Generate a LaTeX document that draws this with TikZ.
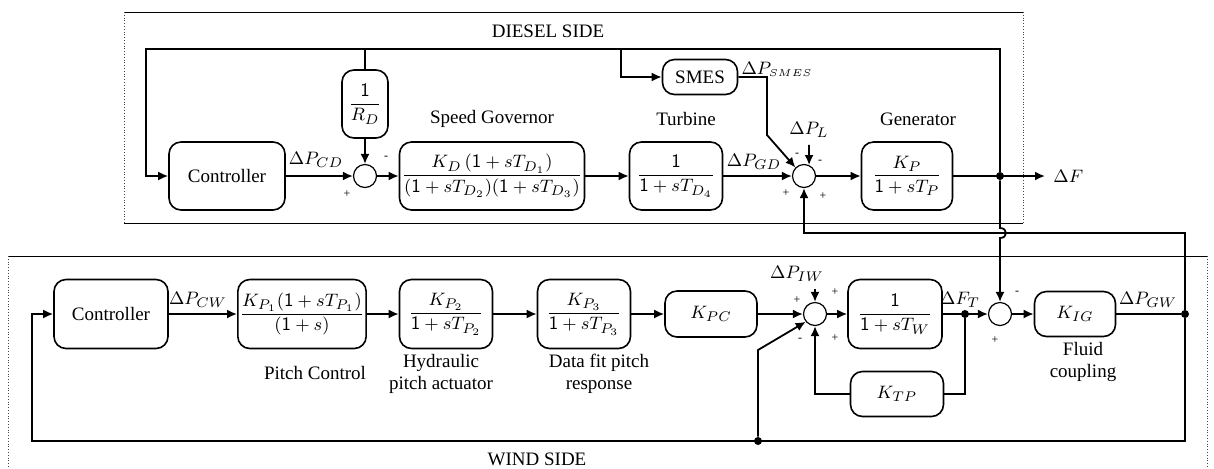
\documentclass[tikz,border=0pt]{standalone}
\usepackage{amsmath}
\usepackage{fontspec}
\setmainfont{Liberation Serif}
\usetikzlibrary{arrows.meta}
\definecolor{frmgray}{HTML}{444444}

\begin{document}
\begin{tikzpicture}[x=0.5pt, y=-0.5pt,
    font=\fontsize{9.5}{11}\selectfont,
    blk/.style={draw, line width=0.8pt, rounded corners=6pt, inner sep=1pt, align=center},
    sumj/.style={draw, circle, line width=0.6pt, minimum size=11.5pt, inner sep=0pt},
    jdot/.style={circle, fill, inner sep=0pt, minimum size=4pt},
    sgn/.style={font=\fontsize{6}{7}\selectfont, inner sep=0pt},
    arr/.style={line width=0.9pt, -{Latex[length=5pt, width=4.5pt]}},
    ln/.style={line width=0.9pt},
    frm/.style={line width=0.4pt},
    side/.style={frm, draw=frmgray, densely dotted}]

  \useasboundingbox (0,0) rectangle (1214,468);

  % frames
  \draw[frm] (124,12) -- (1023,12) (124,223) -- (1023,223);
  \draw[side] (124,12) -- (124,223) (1023,12) -- (1023,223);
  \draw[frm] (8,256) -- (1207,256);
  \draw[side] (8,256) -- (8,468) (1207,256) -- (1207,468);
  \node (tD) at (548,31) {DIESEL SIDE};
  \node (tW) at (537,459) {WIND SIDE};

  % diesel side
  \node[blk, minimum width=58pt, minimum height=34pt] (ctrlD) at (227,176) {Controller};
  \node[blk, minimum width=23pt, minimum height=34pt] (rd) at (365,104) {$\dfrac{\mathsf{1}}{R_D}$};
  \node[sumj] (s1) at (365,176) {};
  \node[blk, minimum width=92.5pt, minimum height=34pt] (gov) at (492,176)
    {$\dfrac{K_D\,(\mathsf{1}+sT_{D_1})}{(\mathsf{1}+sT_{D_2})(\mathsf{1}+sT_{D_3})}$};
  \node[blk, minimum width=46.5pt, minimum height=34pt] (turb) at (676,176)
    {$\dfrac{\mathsf{1}}{\mathsf{1}+sT_{D_4}}$};
  \node[blk, minimum width=37.5pt, minimum height=17.5pt] (smes) at (700,77) {SMES};
  \node[sumj] (s2) at (804,176) {};
  \node[blk, minimum width=45.5pt, minimum height=34pt] (gen) at (907,176)
    {$\dfrac{K_P}{\mathsf{1}+sT_P}$};
  \node[jdot] (dF1) at (1000,176) {};
  \node[anchor=west, inner sep=4pt] (dF) at (1045,176) {$\Delta F$};

  \node (lgov) at (492,119) {Speed Governor};
  \node (lturb) at (686,119) {Turbine};
  \node (lgen) at (918,119) {Generator};
  \node (pcd) at (316,160) {$\Delta P_{CD}$};
  \node (pgd) at (754,162) {$\Delta P_{GD}$};
  \node (psm) at (777,69) {$\Delta P_{\scriptscriptstyle SMES}$};
  \node (pl) at (809,130) {$\Delta P_L$};

  \coordinate (brR) at (365,49);
  \coordinate (brS) at (621,49);
  \coordinate (smK) at (767,135);

  % wind side
  \node[blk, minimum width=57pt, minimum height=34.5pt] (ctrlW) at (111,314) {Controller};
  \node[blk, minimum width=64pt, minimum height=34.5pt] (pitch) at (302,314)
    {$\dfrac{K_{P_1}(\mathsf{1}+sT_{P_1})}{(\mathsf{1}+s)}$};
  \node[blk, minimum width=46.5pt, minimum height=34.5pt] (hyd) at (446,314)
    {$\dfrac{K_{P_2}}{\mathsf{1}+sT_{P_2}}$};
  \node[blk, minimum width=46.5pt, minimum height=34.5pt] (dfit) at (584,314)
    {$\dfrac{K_{P_3}}{\mathsf{1}+sT_{P_3}}$};
  \node[blk, minimum width=46pt, minimum height=23pt] (kpc) at (711,314) {$K_{PC}$};
  \node[sumj] (s3) at (815,314) {};
  \node[blk, minimum width=47pt, minimum height=34.5pt] (tw) at (895,314)
    {$\dfrac{\mathsf{1}}{\mathsf{1}+sT_W}$};
  \node[blk, minimum width=46.5pt, minimum height=22.5pt] (ktp) at (897,394) {$K_{TP}$};
  \node[jdot] (dotFT) at (965,314) {};
  \node[sumj] (s4) at (1000,314) {};
  \node[blk, minimum width=40.5pt, minimum height=22.5pt] (kig) at (1075,314) {$K_{IG}$};
  \node[jdot] (dotGW) at (1185,314) {};
  \node[jdot] (dotB) at (758,441) {};

  \node (lpitch) at (315,373) {Pitch Control};
  \node[align=center] (lhyd) at (441,374) {Hydraulic\\pitch actuator};
  \node[align=center] (ldfit) at (599,374) {Data fit pitch\\response};
  \node[align=center] (lkig) at (1083,362) {Fluid\\coupling};
  \node (pcw) at (198,300) {$\Delta P_{CW}$};
  \node (piw) at (797,274) {$\Delta P_{IW}$};
  \node (pft) at (960,300) {$\Delta F_T$};
  \node (pgw) at (1148,300) {$\Delta P_{GW}$};

  \coordinate (brG) at (1185,233);
  \coordinate (cornW) at (32,441);
  \coordinate (kB) at (758,350);

  % signs
  \foreach \x/\y/\t [count=\i] in {386/158/-, 347/194/+, 797/155/-, 820/162/-,
      786/193/+, 823/196/+, 797/300/+, 835/292/+, 800/340/-, 835/338/+,
      1017/293/-, 995/340/+}
    \node[sgn] (sg\i) at (\x,\y) {\t};

  % forward paths
  \foreach \a/\b in {ctrlD/s1, s1/gov, gov/turb, turb/s2, s2/gen, gen/dF,
      ctrlW/pitch, pitch/hyd, hyd/dfit, dfit/kpc, kpc/s3, s3/tw, tw/s4, s4/kig}
    \draw[arr] (\a) -- (\b);
  \draw[ln] (kig) -- (dotGW);

  % diesel feedback
  \draw[arr] (dF1) |- (146,49) |- (ctrlD.west);
  \draw[ln] (brR) -- (rd.north);
  \draw[arr] (rd) -- (s1);
  \draw[arr] (brS) |- (smes.west);
  \draw[arr] (smes.east) -| (smK) -- (s2.135);
  \draw[arr] (pl.south) -- (s2.65);

  % tie lines
  \draw[arr] (dF1) -- (1000,228) .. controls (1008,228) and (1008,238) .. (1000,238) -- (s4);
  \draw[arr] (dotGW) -- (brG) -| (s2.south);

  % wind feedback
  \draw[arr] (dotGW) |- (cornW) |- (ctrlW.west);
  \draw[arr] (s3.north |- piw.south) -- (s3.north);
  \draw[ln] (dotFT) |- (ktp.east);
  \draw[arr] (ktp.west) -| (s3.south);
  \draw[arr] (dotB) -- (kB) -- (s3.220);
\end{tikzpicture}
\end{document}
